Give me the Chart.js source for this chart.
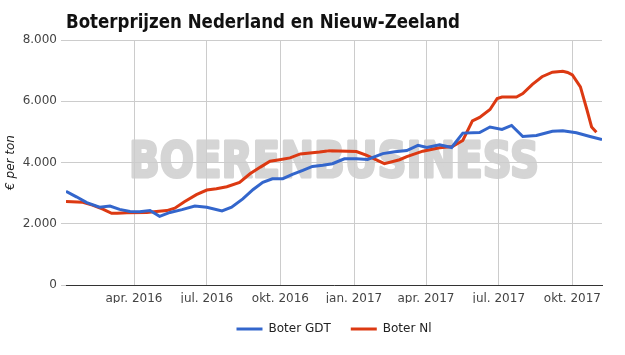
<!DOCTYPE html>
<html>
<head>
<meta charset="utf-8">
<script src="https://cdn.jsdelivr.net/npm/chart.js@4/dist/chart.umd.min.js"></script>
<style>
    html, body { margin: 0; padding: 0; background: #ffffff; }
    #wrap { width: 625px; height: 355px; }
</style>
</head>
<body>
<div id="wrap"><canvas id="boter-chart" width="625" height="355"></canvas></div>
<script>
const chartTitle = 'Boterprijzen Nederland en Nieuw-Zeeland';
const watermark = 'BOERENBUSINESS';
const yAxisTitle = '€ per ton';

const gdtDates = [
    '2016-01-07', '2016-01-20', '2016-02-02', '2016-02-18', '2016-03-02', '2016-03-14', '2016-03-27',
    '2016-04-08', '2016-04-21', '2016-05-03', '2016-05-16', '2016-05-31', '2016-06-16', '2016-07-01',
    '2016-07-20', '2016-08-01', '2016-08-15', '2016-08-28', '2016-09-09', '2016-09-21', '2016-10-04',
    '2016-10-16', '2016-10-29', '2016-11-10', '2016-11-23', '2016-12-05', '2016-12-20', '2017-01-04',
    '2017-01-18', '2017-02-06', '2017-02-21', '2017-03-08', '2017-03-22', '2017-04-02', '2017-04-18',
    '2017-05-03', '2017-05-17', '2017-06-07', '2017-06-20', '2017-07-05', '2017-07-17', '2017-07-31',
    '2017-08-17', '2017-09-06', '2017-09-19', '2017-10-06', '2017-10-23', '2017-11-07'
];
const gdtValues = [
    3060, 2880, 2690, 2540, 2580, 2470, 2400,
    2390, 2430, 2240, 2370, 2460, 2580, 2540,
    2420, 2540, 2810, 3120, 3350, 3470, 3470,
    3610, 3740, 3870, 3910, 3960, 4120, 4120,
    4100, 4290, 4350, 4390, 4560, 4490, 4580,
    4490, 4960, 4980, 5160, 5080, 5210, 4850,
    4880, 5020, 5040, 4970, 4850, 4750
];

const nlDates = [
    '2016-01-07', '2016-01-28', '2016-02-09', '2016-02-22', '2016-03-04', '2016-03-11', '2016-03-23',
    '2016-04-17', '2016-04-29', '2016-05-12', '2016-05-22', '2016-06-03', '2016-06-18', '2016-07-01',
    '2016-07-13', '2016-07-26', '2016-08-11', '2016-08-24', '2016-09-06', '2016-09-18', '2016-09-30',
    '2016-10-13', '2016-10-26', '2016-11-19', '2016-12-01', '2017-01-04', '2017-01-17', '2017-02-08',
    '2017-02-27', '2017-03-08', '2017-03-28', '2017-04-18', '2017-05-04', '2017-05-17', '2017-05-29',
    '2017-06-07', '2017-06-20', '2017-06-29', '2017-07-05', '2017-07-23', '2017-07-31', '2017-08-12',
    '2017-08-24', '2017-09-06', '2017-09-19', '2017-09-25', '2017-10-01', '2017-10-11', '2017-10-19',
    '2017-10-25', '2017-10-31'
];
const nlValues = [
    2730, 2700, 2610, 2480, 2340, 2340, 2360,
    2370, 2400, 2430, 2510, 2720, 2950, 3100,
    3140, 3210, 3350, 3630, 3850, 4040, 4090,
    4150, 4280, 4340, 4380, 4360, 4230, 3960,
    4090, 4190, 4370, 4480, 4520, 4720, 5360,
    5470, 5730, 6090, 6140, 6140, 6250, 6550,
    6800, 6950, 6980, 6940, 6860, 6470, 5740,
    5160, 4990
];

const xTickDates = ['2016-04-01', '2016-07-01', '2016-10-01', '2017-01-01', '2017-04-01', '2017-07-01', '2017-10-01'];
const xTickLabels = ['apr. 2016', 'jul. 2016', 'okt. 2016', 'jan. 2017', 'apr. 2017', 'jul. 2017', 'okt. 2017'];
const xStart = '2016-01-07';
const xEnd = '2017-11-07';

const colors = { gdt: '#3366cc', nl: '#dc3912' };

function toPoints(dates, values) {
    return dates.map((d, i) => ({ x: Date.parse(d), y: values[i] }));
}

function formatThousands(v) {
    return String(v).replace(/\B(?=(\d{3})+(?!\d))/g, '.');
}

// titel, watermerk en legenda gecentreerd op het plotvlak
const decorPlugin = {
    id: 'decor',
    afterLayout(chart) {
        if (chart.legend) {
            chart.legend.left = chart.chartArea.left;
            chart.legend.right = chart.chartArea.right;
        }
    },
    beforeDraw(chart) {
        const { ctx } = chart;
        ctx.save();
        ctx.fillStyle = '#d5d5d5';
        ctx.strokeStyle = '#d5d5d5';
        ctx.lineWidth = 3;
        ctx.lineJoin = 'round';
        ctx.font = 'bold 50px "DejaVu Sans"';
        ctx.textAlign = 'center';
        ctx.textBaseline = 'alphabetic';
        ctx.fillText(watermark, 334, 177, 410);
        ctx.strokeText(watermark, 334, 177, 410);
        ctx.restore();
    },
    afterDraw(chart) {
        const { ctx } = chart;
        ctx.save();
        ctx.fillStyle = '#111111';
        ctx.font = 'bold 19px "DejaVu Sans Condensed", "DejaVu Sans"';
        ctx.textAlign = 'left';
        ctx.textBaseline = 'alphabetic';
        ctx.fillText(chartTitle, 66, 28, 394);
        ctx.restore();
    }
};

const ctx = document.getElementById('boter-chart').getContext('2d');
new Chart(ctx, {
    type: 'line',
    data: {
        datasets: [
            {
                label: 'Boter GDT',
                data: toPoints(gdtDates, gdtValues),
                borderColor: colors.gdt,
                backgroundColor: colors.gdt,
                borderWidth: 3,
                pointRadius: 0,
                tension: 0,
                fill: false
            },
            {
                label: 'Boter Nl',
                data: toPoints(nlDates, nlValues),
                borderColor: colors.nl,
                backgroundColor: colors.nl,
                borderWidth: 3,
                pointRadius: 0,
                tension: 0,
                fill: false
            }
        ]
    },
    options: {
        responsive: false,
        animation: false,
        layout: { padding: { top: 40, left: 0, right: 23, bottom: 10 } },
        scales: {
            x: {
                type: 'linear',
                min: Date.parse(xStart),
                max: Date.parse(xEnd),
                afterBuildTicks: scale => {
                    scale.ticks = xTickDates.map(d => ({ value: Date.parse(d) }));
                },
                afterFit: scale => { scale.height = 18; },
                grid: { color: '#cccccc', drawTicks: false },
                border: { color: '#333333', width: 1 },
                ticks: {
                    autoSkip: false,
                    maxRotation: 0,
                    padding: 7,
                    color: '#444444',
                    font: { family: 'DejaVu Sans', size: 12 },
                    callback: (value, index) => xTickLabels[index]
                }
            },
            y: {
                min: 0,
                max: 8000,
                afterFit: scale => { scale.width = 66; },
                grid: { color: '#cccccc', tickLength: 5 },
                border: { display: false },
                ticks: {
                    stepSize: 2000,
                    padding: 4,
                    color: '#444444',
                    font: { family: 'DejaVu Sans', size: 12 },
                    callback: value => formatThousands(value)
                },
                title: {
                    display: true,
                    text: yAxisTitle,
                    color: '#222222',
                    padding: { top: 4, bottom: 0 },
                    font: { family: 'DejaVu Sans', size: 12, style: 'italic' }
                }
            }
        },
        plugins: {
            legend: {
                position: 'bottom',
                labels: {
                    boxWidth: 26,
                    boxHeight: 3,
                    padding: 20,
                    color: '#222222',
                    font: { family: 'DejaVu Sans', size: 12 },
                    generateLabels: chart => chart.data.datasets.map((ds, i) => ({
                        text: ds.label,
                        fillStyle: ds.borderColor,
                        strokeStyle: ds.borderColor,
                        lineWidth: 0,
                        fontColor: '#222222',
                        hidden: !chart.isDatasetVisible(i),
                        datasetIndex: i
                    }))
                }
            },
            tooltip: { enabled: false },
            title: { display: false }
        }
    },
    plugins: [decorPlugin]
});
</script>
</body>
</html>
